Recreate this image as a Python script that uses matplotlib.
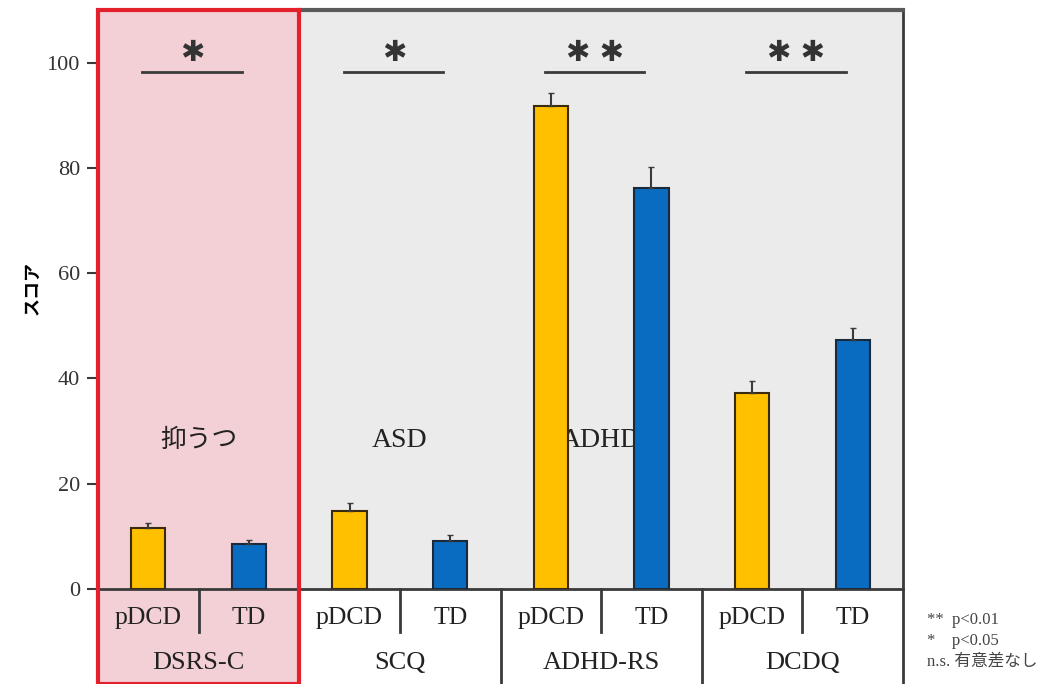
import matplotlib.pyplot as plt
import matplotlib.transforms as mtransforms
from matplotlib.patches import Rectangle

plt.rcParams['font.family'] = ['Liberation Serif', 'Noto Sans CJK JP']

# data
scales = ['DSRS-C', 'SCQ', 'ADHD-RS', 'DCDQ']
groups = ['pDCD', 'TD']
domains = ['抑うつ', 'ASD', 'ADHD', '']
pdcd_mean = [11.5, 14.8, 91.8, 37.3]
pdcd_err = [1.0, 1.5, 2.4, 2.2]
td_mean = [8.6, 9.1, 76.2, 47.3]
td_err = [0.7, 1.2, 4.0, 2.3]
signif = ['✱', '✱', '✱ ✱', '✱ ✱']
note_lines = ['**  p<0.01', '*    p<0.05', 'n.s. 有意差なし']

orange = '#FFC000'
blue = '#0A6CC0'
pink = '#F2D0D6'
gray = '#EBEBEB'
red = '#E3202B'
dark = '#3A3A3A'

fig = plt.figure(figsize=(10.47, 6.84), dpi=100)
ax = fig.add_axes([98 / 1047, 95 / 684, 805 / 1047, 579 / 684])
ax.set_xlim(0, 8)
ax.set_ylim(0, 110)

btrans = mtransforms.blended_transform_factory(ax.transData, ax.transAxes)
below = -95 / 579

# backgrounds
ax.add_patch(Rectangle((0, below), 2, 1 - below, transform=btrans, facecolor=pink,
                       edgecolor='none', clip_on=False, zorder=0))
for i in range(1, 4):
    ax.add_patch(Rectangle((2 * i, 0), 2, 1, transform=btrans, facecolor=gray,
                           edgecolor='none', zorder=0))

# domain labels (behind bars)
for i, d in enumerate(domains):
    if d:
        fs = 18.5 if i == 0 else 20
        ax.text(2 * i + 1, 28.3, d, ha='center', va='center', fontsize=fs, zorder=1,
                color='#222222')

# bars
x_p = [2 * i + 0.5 for i in range(4)]
x_t = [2 * i + 1.5 for i in range(4)]
ax.bar(x_p, pdcd_mean, width=0.34, color=orange, edgecolor='#3a2a10', linewidth=1.5,
       yerr=[[0] * 4, pdcd_err], error_kw=dict(ecolor=dark, elinewidth=1.5, capsize=2),
       zorder=3)
ax.bar(x_t, td_mean, width=0.34, color=blue, edgecolor='#1a2a3a', linewidth=1.5,
       yerr=[[0] * 4, td_err], error_kw=dict(ecolor=dark, elinewidth=1.5, capsize=2),
       zorder=3)

# significance
for i, s in enumerate(signif):
    ax.plot([2 * i + 0.44, 2 * i + 1.43], [98.3, 98.3], color=dark, lw=2, zorder=4)
    ax.text(2 * i + 0.94, 101.8, s, ha='center', va='center', fontsize=21,
            family='DejaVu Sans', color='#333333', zorder=4)

# category labels below the axis
for i in range(4):
    ax.text(x_p[i], -0.05, groups[0], transform=btrans, ha='center', va='center',
            fontsize=18.5, color='#222222')
    ax.text(x_t[i], -0.05, groups[1], transform=btrans, ha='center', va='center',
            fontsize=18.5, color='#222222')
    ax.text(2 * i + 1, -0.127, scales[i], transform=btrans, ha='center', va='center',
            fontsize=19, color='#222222')
    ax.plot([2 * i + 1, 2 * i + 1], [0, -0.075], transform=btrans, color=dark, lw=2,
            clip_on=False)
for xb in [4, 6]:
    ax.plot([xb, xb], [0, below], transform=btrans, color=dark, lw=2, clip_on=False)
ax.plot([8, 8], [1, below], transform=btrans, color=dark, lw=2, clip_on=False)

# red frame around first group
ax.add_patch(Rectangle((0, below), 2, 1 - below, transform=btrans, facecolor='none',
                       edgecolor=red, lw=3, clip_on=False, zorder=6))

# spines and ticks
for side in ['top', 'right', 'left']:
    ax.spines[side].set_visible(False)
ax.plot([2, 8], [1, 1], transform=btrans, color='#5a5a5a', lw=3, clip_on=False, zorder=5)
ax.spines['bottom'].set_color(dark)
ax.spines['bottom'].set_linewidth(2)
ax.set_xticks([])
ax.set_yticks([0, 20, 40, 60, 80, 100])
ax.tick_params(axis='y', length=8, width=1.5, color=dark, labelsize=16, pad=5,
               labelcolor='#333333')
ax.set_ylabel('スコア', family='Noto Sans CJK JP', fontweight='bold', fontsize=13)
ax.yaxis.set_label_coords(-0.07, 0.52)

# note
for k, line in enumerate(note_lines):
    fig.text(927 / 1047, 1 - (620 + k * 21) / 684, line, fontsize=12, va='center',
             ha='left', color='#444444')

fig.savefig('out.png', dpi=100)
